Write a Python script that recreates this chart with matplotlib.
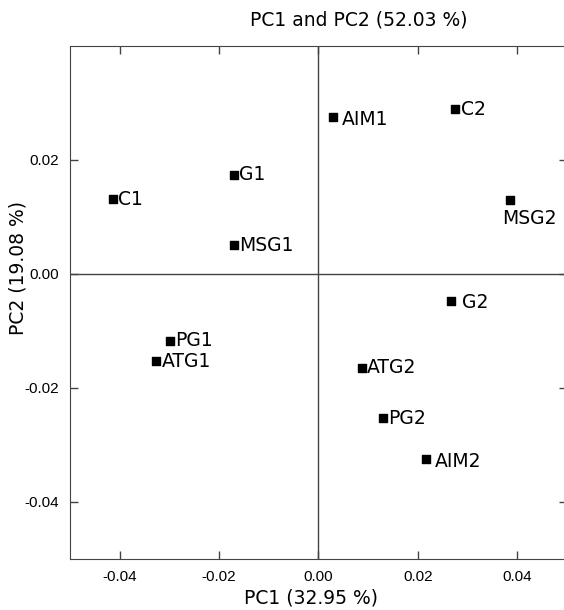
import matplotlib
matplotlib.use("Agg")
import matplotlib.pyplot as plt

# sample scores
samples = ["C1", "G1", "MSG1", "AIM1", "C2", "MSG2",
           "PG1", "ATG1", "G2", "ATG2", "PG2", "AIM2"]
pc1 = [-0.0414, -0.0170, -0.0170, 0.0030, 0.0276, 0.0385,
       -0.0299, -0.0326, 0.0267, 0.0087, 0.0130, 0.0217]
pc2 = [0.0131, 0.0174, 0.0050, 0.0275, 0.0289, 0.0129,
       -0.0117, -0.0153, -0.0048, -0.0165, -0.0253, -0.0324]

# label offsets in points (x, y)
offsets = {"MSG2": (14, -13), "G2": (8, -1), "AIM1": (6, -2), "AIM2": (6, -2)}

fig = plt.figure(figsize=(5.64, 6.10), dpi=100)
ax = fig.add_axes([70 / 564, 51 / 610, 496.7 / 564, 513.3 / 610])

ax.axhline(0, color="#444444", lw=1, zorder=1)
ax.axvline(0, color="#444444", lw=1, zorder=1)
ax.scatter(pc1, pc2, marker="s", s=40, color="black", zorder=3)

for name, x, y in zip(samples, pc1, pc2):
    dx, dy = offsets.get(name, (4, 0))
    ha = "center" if name == "MSG2" else "left"
    ax.annotate(name, (x, y), xytext=(dx, dy), textcoords="offset points",
                ha=ha, va="center", fontsize=13.5, family="DejaVu Sans")

ax.set_xlim(-0.05, 0.05)
ax.set_ylim(-0.05, 0.04)
ax.set_xticks([-0.04, -0.02, 0.00, 0.02, 0.04])
ax.set_yticks([-0.04, -0.02, 0.00, 0.02])
ax.xaxis.set_major_formatter(plt.FormatStrFormatter("%.2f"))
ax.yaxis.set_major_formatter(plt.FormatStrFormatter("%.2f"))
ax.tick_params(direction="in", length=6, width=1, color="#444444",
               top=True, right=True, labelsize=11, pad=8)
for lab in ax.get_xticklabels() + ax.get_yticklabels():
    lab.set_family("Liberation Sans")
for sp in ax.spines.values():
    sp.set_color("#444444")

fig.text(359 / 564, 1 - 20 / 610, "PC1 and PC2 (52.03 %)", ha="center",
         va="center", fontsize=13.5)
fig.text(311 / 564, 1 - 598 / 610, "PC1 (32.95 %)", ha="center",
         va="center", fontsize=13.5)
fig.text(18 / 564, 1 - 268 / 610, "PC2 (19.08 %)", ha="center",
         va="center", fontsize=13.5, rotation=90)

fig.savefig("out.png", dpi=100)
